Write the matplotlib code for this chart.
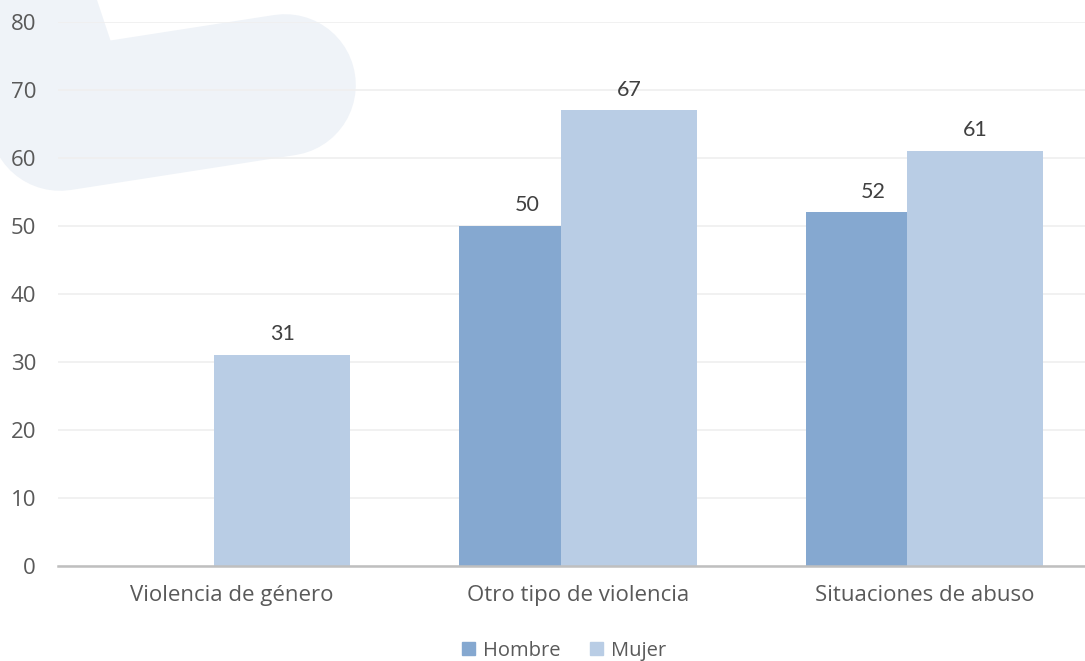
import numpy as np
import matplotlib.pyplot as plt
from matplotlib.patches import Polygon, Patch

# datos
categorias = ['Violencia de género', 'Otro tipo de violencia', 'Situaciones de abuso']
hombre = [0, 50, 52]
mujer = [31, 67, 61]
series = ['Hombre', 'Mujer']
yticks = [0, 10, 20, 30, 40, 50, 60, 70, 80]

c_hombre = '#85a8d0'
c_mujer = '#b9cde5'
txt = '#404040'

W, H = 1085, 661
fig = plt.figure(figsize=(W / 100, H / 100), dpi=100)

# fondo decorativo (marca de agua)
bg = fig.add_axes([0, 0, 1, 1], zorder=0)
bg.set_xlim(0, W)
bg.set_ylim(H, 0)
bg.axis('off')
wm = '#eff3f8'
bg.plot([60, 285], [120, 85], color=wm, lw=102, solid_capstyle='round')
bg.add_patch(Polygon([(0, 0), (97, 0), (112, 45), (112, 130), (0, 130)], closed=True,
                     facecolor=wm, edgecolor='none'))

# eje principal
left, bottom, top = 58.25, 566, 22
ax = fig.add_axes([left / W, (H - bottom) / H, 1039.5 / W, (bottom - top) / H], zorder=1)
ax.patch.set_alpha(0)

x = np.arange(len(categorias))
ancho = 0.3925
desp = 0.147
bh = ax.bar(x - desp, hombre, ancho, color=c_hombre, zorder=2, label=series[0])
bm = ax.bar(x + desp, mujer, ancho, color=c_mujer, zorder=3, label=series[1])

for xi, v in zip(x, hombre):
    if v > 0:
        ax.annotate(str(v), (xi - desp, v), xytext=(0, 15), textcoords='offset points',
                    ha='center', va='center', fontsize=15.5, color=txt, family='Lato')
for xi, v in zip(x, mujer):
    ax.annotate(str(v), (xi + desp, v), xytext=(0, 15), textcoords='offset points',
                ha='center', va='center', fontsize=15.5, color=txt, family='Lato')

ax.set_xlim(-0.5, 2.5)
ax.set_ylim(0, 80)
ax.set_yticks(yticks)
ax.set_yticklabels([str(t) for t in yticks], family='Open Sans', fontsize=16, color='#595959')
ax.set_xticks(x)
ax.set_xticklabels(categorias, family='Open Sans', fontsize=16, color='#595959')
ax.tick_params(axis='y', length=0, pad=16)
ax.tick_params(axis='x', length=0, pad=14)
ax.grid(axis='y', color='#efefef', lw=1.2, zorder=0)
ax.set_axisbelow(True)
for s in ['top', 'right', 'left']:
    ax.spines[s].set_visible(False)
ax.spines['bottom'].set_color('#bfbfbf')
ax.spines['bottom'].set_linewidth(1.8)
ax.spines['bottom'].set_zorder(4)

handles = [Patch(color=c_hombre, label=series[0]), Patch(color=c_mujer, label=series[1])]
fig.legend(handles=handles, loc='center', bbox_to_anchor=(564 / W, 1 - 651 / H), ncol=2,
           frameon=False, prop={'family': 'Open Sans', 'size': 14.5}, handlelength=0.62,
           handleheight=0.62, handletextpad=0.4, columnspacing=1.5, labelcolor='#595959')

fig.savefig('out.png', dpi=100)
